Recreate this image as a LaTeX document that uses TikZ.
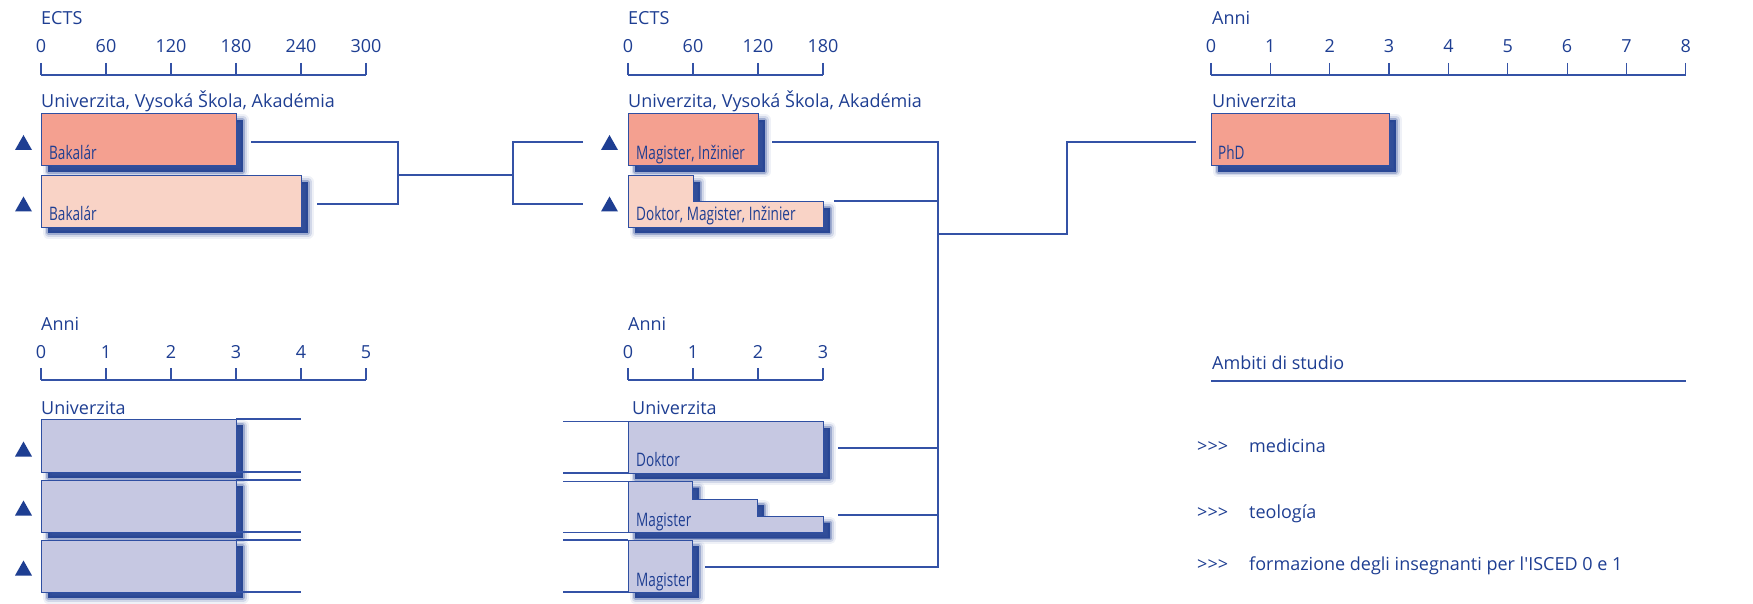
\documentclass[tikz,border=0pt]{standalone}
\usepackage{fontspec}
\setmainfont{Open Sans}[Ligatures=TeXOff]
\newfontfamily\condfont[FakeStretch=0.73]{Open Sans}
\definecolor{textblue}{HTML}{1E3E92}
\definecolor{lineblue}{HTML}{3452A6}
\definecolor{edgeblue}{HTML}{2F4FA2}
\definecolor{shadowblue}{HTML}{1D3C8F}
\definecolor{salmon}{HTML}{F4A090}
\definecolor{lightsalmon}{HTML}{F9D3C6}
\definecolor{lavender}{HTML}{C6C8E2}
\newcommand\softshadow[1]{%
  \begin{scope}[shift={(7,6)}]
    \draw[shadowblue, opacity=0.07, line width=11, line join=round] #1 -- cycle;
    \draw[shadowblue, opacity=0.14, line width=7, line join=round] #1 -- cycle;
    \draw[shadowblue, opacity=0.28, line width=3.5, line join=round] #1 -- cycle;
    \fill[shadowblue, opacity=0.9] #1 -- cycle;
  \end{scope}}
\newcommand\chartbox[2]{%
  \softshadow{#1}
  \filldraw[fill=#2, draw=edgeblue, line width=1] #1 -- cycle;}
\begin{document}
\begin{tikzpicture}[x=1pt,y=-1pt,
  lbl/.style={anchor=base west, text=textblue, inner sep=0, font=\fontsize{18}{21}\selectfont},
  ticklbl/.style={anchor=base, text=textblue, inner sep=0, font=\fontsize{18}{21}\selectfont},
  inlbl/.style={anchor=base west, text=textblue, inner sep=0, font=\condfont\fontsize{18.6}{22}\selectfont},
  axisln/.style={draw=lineblue, line width=1.2},
  conn/.style={draw=lineblue, line width=1.3},
  tri/.style={fill=textblue}]
\useasboundingbox (0,0) rectangle (1753,604);

% ---------- axes ----------
\foreach \v [count=\i from 0] in {0,60,120,180,240,300} {
  \draw[axisln] (41+65*\i,63) -- (41+65*\i,75);
  \node[ticklbl] (ta\i) at (41+65*\i,53) {\v};}
\draw[axisln] (41,75) -- (366,75);
\node[lbl] (ectsA) at (41,25) {ECTS};

\foreach \v [count=\i from 0] in {0,60,120,180} {
  \draw[axisln] (628+65*\i,63) -- (628+65*\i,75);
  \node[ticklbl] (tb\i) at (628+65*\i,53) {\v};}
\draw[axisln] (628,75) -- (823,75);
\node[lbl] (ectsB) at (628,25) {ECTS};

\foreach \v [count=\i from 0] in {0,...,8} {
  \draw[axisln] (1211+59.35*\i,63) -- (1211+59.35*\i,75);
  \node[ticklbl] (tc\i) at (1211+59.35*\i,53) {\v};}
\draw[axisln] (1211,75) -- (1686,75);
\node[lbl] (anniC) at (1212,25) {Anni};

\foreach \v [count=\i from 0] in {0,...,5} {
  \draw[axisln] (41+65*\i,368) -- (41+65*\i,380);
  \node[ticklbl] (td\i) at (41+65*\i,358) {\v};}
\draw[axisln] (41,380) -- (366,380);
\node[lbl] (anniD) at (41,330) {Anni};

\foreach \v [count=\i from 0] in {0,...,3} {
  \draw[axisln] (628+65*\i,368) -- (628+65*\i,380);
  \node[ticklbl] (te\i) at (628+65*\i,358) {\v};}
\draw[axisln] (628,380) -- (823,380);
\node[lbl] (anniE) at (628,330) {Anni};

% ---------- institution headings ----------
\node[lbl] (instA) at (41,108) {Univerzita, Vysoká Škola, Akadémia};
\node[lbl] (instB) at (628,108) {Univerzita, Vysoká Škola, Akadémia};
\node[lbl] (instC) at (1212,108) {Univerzita};
\node[lbl] (instD) at (41,414) {Univerzita};
\node[lbl] (instE) at (632,414) {Univerzita};

% ---------- boxes top ----------
\chartbox{(41,114) -- (236,114) -- (236,166) -- (41,166)}{salmon}
\chartbox{(41,176) -- (301,176) -- (301,227) -- (41,227)}{lightsalmon}
\chartbox{(628,114) -- (758,114) -- (758,166) -- (628,166)}{salmon}
\chartbox{(628,176) -- (693,176) -- (693,202) -- (823,202) -- (823,227) -- (628,227)}{lightsalmon}
\chartbox{(1211,114) -- (1389,114) -- (1389,166) -- (1211,166)}{salmon}
\node[inlbl] (bak1) at (49,160) {Bakalár};
\node[inlbl] (bak2) at (49,220) {Bakalár};
\node[inlbl] (mag1) at (636,160) {Magister, Inžinier};
\node[inlbl] (dok1) at (636,220) {Doktor, Magister, Inžinier};
\node[inlbl] (phd) at (1218,160) {PhD};

% ---------- boxes bottom left ----------
\foreach \t/\b in {419/472, 480/532, 540/592} {
  \chartbox{(41,\t) -- (236,\t) -- (236,\b) -- (41,\b)}{lavender}
  \draw[conn] (236,\t) -- (301,\t);
  \draw[conn] (236,\b) -- (301,\b);}

% ---------- boxes bottom middle ----------
\chartbox{(628,421.5) -- (823,421.5) -- (823,473) -- (628,473)}{lavender}
\chartbox{(628,481.5) -- (692,481.5) -- (692,499) -- (757,499) -- (757,516.5) -- (823,516.5) -- (823,532.5) -- (628,532.5)}{lavender}
\chartbox{(628,540) -- (692,540) -- (692,592) -- (628,592)}{lavender}
\foreach \y in {421.5, 473, 481.5, 532.5, 540, 592} {
  \draw[conn] (563,\y) -- (628,\y);}
\node[inlbl] (dok2) at (636,466.5) {Doktor};
\node[inlbl] (mag2) at (636,526.5) {Magister};
\node[inlbl] (mag3) at (636,586) {Magister};

% ---------- triangles ----------
\foreach \x/\y in {15/142.5, 15/204, 601/142.5, 601/204, 15/449, 15/508, 15/568} {
  \fill[tri] (\x,\y+7.5) -- (\x+17,\y+7.5) -- (\x+8.5,\y-7.5) -- cycle;}

% ---------- connectors ----------
\coordinate (a1) at (251,142);
\coordinate (a2) at (317,204);
\coordinate (j1) at (398,142);
\coordinate (j2) at (398,204);
\coordinate (j3) at (398,175);
\coordinate (k3) at (513,175);
\coordinate (k1) at (513,142);
\coordinate (k2) at (513,204);
\coordinate (b1) at (583,142);
\coordinate (b2) at (583,204);
\draw[conn] (a1) -- (j1) -- (j2) -- (a2);
\draw[conn] (j3) -- (k3);
\draw[conn] (b1) -- (k1) -- (k2) -- (b2);

\coordinate (m1) at (772,142);
\coordinate (m2) at (834,201);
\coordinate (m3) at (838,448);
\coordinate (m4) at (838,515);
\coordinate (m5) at (705,567);
\coordinate (v1) at (938,142);
\coordinate (v2) at (938,201);
\coordinate (v3) at (938,234);
\coordinate (v4) at (938,448);
\coordinate (v5) at (938,515);
\coordinate (v6) at (938,567);
\coordinate (h1) at (1067,234);
\coordinate (h2) at (1067,142);
\coordinate (p1) at (1196,142);
\draw[conn] (m1) -- (v1) -- (v6) -- (m5);
\draw[conn] (m2) -- (v2);
\draw[conn] (m3) -- (v4);
\draw[conn] (m4) -- (v5);
\draw[conn] (v3) -- (h1) -- (h2) -- (p1);

% ---------- legend ----------
\node[lbl] (amb) at (1212,369) {Ambiti di studio};
\draw[conn] (1211,381) -- (1686,381);
\node[lbl] (g1) at (1197,452) {>>>};
\node[lbl] (g2) at (1197,518) {>>>};
\node[lbl] (g3) at (1197,570) {>>>};
\node[lbl] (f1) at (1249,452) {medicina};
\node[lbl] (f2) at (1249,518) {teología};
\node[lbl] (f3) at (1249,570) {formazione degli insegnanti per l'ISCED 0 e 1};
\end{tikzpicture}
\end{document}
